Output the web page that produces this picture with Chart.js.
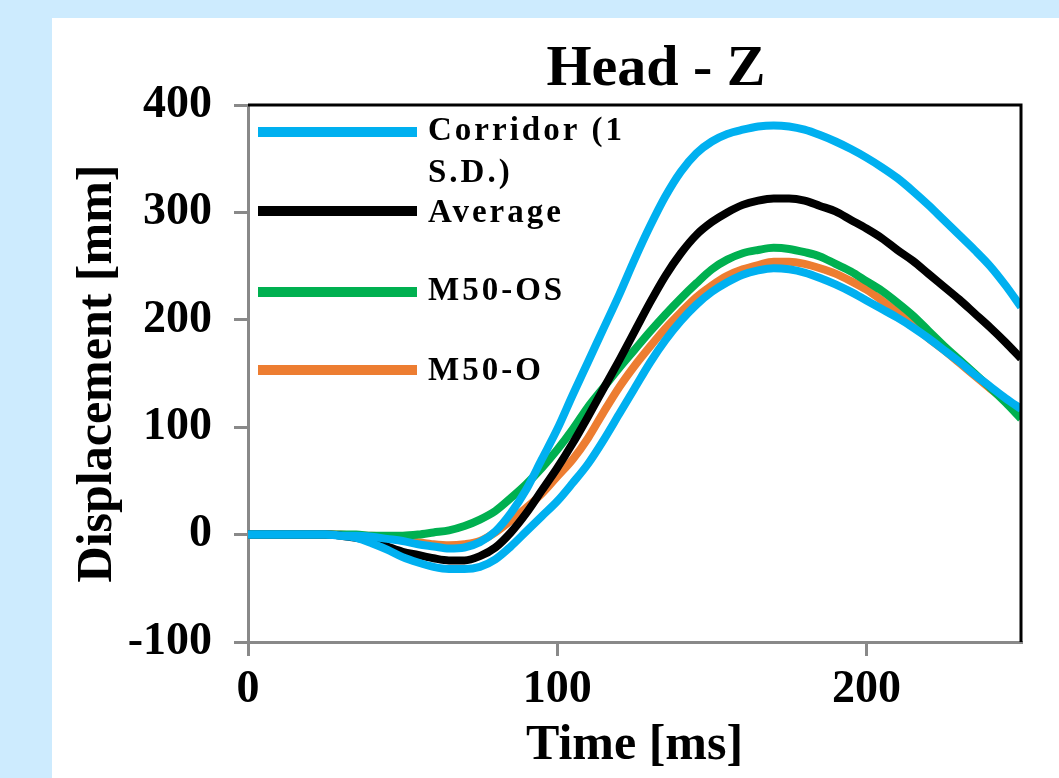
<!DOCTYPE html>
<html>
<head>
<meta charset="utf-8">
<title>Head - Z</title>
<script src="https://cdn.jsdelivr.net/npm/chart.js@4.4.0/dist/chart.umd.min.js"></script>
<style>
    html, body { margin: 0; padding: 0; background: #cdebfe; }
    #wrap { position: absolute; left: 0; top: 0; width: 1059px; height: 778px; }
</style>
</head>
<body>
<div id="wrap"><canvas id="headZ" width="1059" height="778"></canvas></div>
<script>
/* ---------- data ---------- */
const timeMs = [0, 5, 10, 15, 20, 25, 30, 35, 40, 45, 50, 55, 60, 65, 70, 75, 80, 85, 90, 95,
    100, 105, 110, 115, 120, 125, 130, 135, 140, 145, 150, 155, 160, 165, 170, 175, 180, 185, 190, 195,
    200, 205, 210, 215, 220, 225, 230, 235, 240, 245, 250];

const corridorHi = [0, 0, 0, 0, 0, 0, -1, -1, -2, -4, -6, -9, -11, -13, -12, -7, 3, 20, 42, 70,
    98, 130, 161, 192, 223, 256, 287, 315, 338, 355, 366, 373, 377, 380, 381, 380, 377, 372, 366, 359,
    351, 342, 332, 320, 307, 293, 279, 265, 250, 232, 212];

const average = [0, 0, 0, 0, 0, 0, -1, -3, -6, -11, -16, -19, -22, -24, -24, -20, -12, 2, 20, 41,
    62, 85, 110, 136, 162, 189, 216, 241, 262, 279, 291, 300, 307, 311, 313, 313, 311, 306, 301, 293,
    285, 276, 265, 255, 243, 231, 219, 206, 193, 179, 164];

const m50os = [0, 0, 0, 0, 0, 0, 0, 0, -1, -1, -1, 0, 2, 4, 8, 14, 22, 34, 47, 62,
    79, 98, 119, 137, 155, 172, 189, 205, 220, 234, 247, 256, 262, 265, 267, 266, 263, 259, 252, 245,
    236, 227, 216, 204, 190, 176, 163, 150, 137, 123, 108];

const m50o = [0, 0, 0, 0, 0, 0, 0, -1, -1, -3, -5, -7, -9, -10, -9, -6, 2, 13, 25, 38,
    54, 70, 90, 114, 137, 157, 175, 192, 207, 221, 232, 241, 247, 251, 254, 254, 252, 248, 243, 236,
    228, 218, 207, 195, 183, 172, 160, 148, 136, 125, 113];

const corridorLo = [0, 0, 0, 0, 0, 0, -1, -3, -8, -14, -21, -26, -30, -32, -32, -30, -23, -11, 3, 17,
    31, 48, 66, 88, 112, 136, 160, 181, 199, 214, 226, 235, 242, 246, 248, 247, 244, 239, 233, 226,
    218, 210, 202, 193, 183, 172, 161, 149, 138, 127, 117];

const xTicks = [0, 100, 200];
const legendLabels = [['Corridor (1', 'S.D.)'], ['Average'], ['M50-OS'], ['M50-O']];

const BLUE = '#00b0f0';
const BLACK = '#000000';
const GREEN = '#00b050';
const ORANGE = '#ed7d31';
const AXIS_GREY = '#898989';
const SERIF = "'Liberation Serif', 'Times New Roman', serif";

function pts(values) {
    return timeMs.map(function(t, i) { return { x: t, y: values[i] }; });
}

function line(label, values, color) {
    return {
        label: label,
        data: pts(values),
        borderColor: color,
        backgroundColor: color,
        borderWidth: 8,
        pointRadius: 0,
        fill: false,
        cubicInterpolationMode: 'monotone'
    };
}

/* ---------- background, frame, title, legend ---------- */
const decor = {
    id: 'decor',
    beforeDraw(chart) {
        const ctx = chart.ctx;
        ctx.save();
        ctx.fillStyle = '#cdebfe';
        ctx.fillRect(0, 0, chart.width, chart.height);
        ctx.fillStyle = '#ffffff';
        ctx.fillRect(52, 18, chart.width - 52, chart.height - 18);
        ctx.restore();
    },
    afterDraw(chart) {
        const ctx = chart.ctx;
        const a = chart.chartArea;
        ctx.save();
        // black top / right edges of the plot box
        ctx.strokeStyle = BLACK;
        ctx.lineWidth = 3;
        ctx.beginPath();
        ctx.moveTo(a.left, a.top);
        ctx.lineTo(a.right, a.top);
        ctx.lineTo(a.right, a.bottom);
        ctx.stroke();

        // title
        ctx.fillStyle = BLACK;
        ctx.font = 'bold 58px ' + SERIF;
        ctx.textAlign = 'center';
        ctx.textBaseline = 'alphabetic';
        ctx.fillText('Head - Z', 656, 85);

        // legend inside the plot, top-left
        const colors = [BLUE, BLACK, GREEN, ORANGE];
        const lineY = [132, 211, 292, 370];
        const textY = [[140, 182], [222], [300], [380]];
        ctx.font = 'bold 33px ' + SERIF;
        ctx.textAlign = 'left';
        ctx.letterSpacing = '3px';
        ctx.lineCap = 'butt';
        for (let i = 0; i < colors.length; i++) {
            ctx.strokeStyle = colors[i];
            ctx.lineWidth = 10;
            ctx.beginPath();
            ctx.moveTo(258, lineY[i]);
            ctx.lineTo(417, lineY[i]);
            ctx.stroke();
            legendLabels[i].forEach(function(txt, k) {
                ctx.fillText(txt, 428, textY[i][k]);
            });
        }
        ctx.restore();
    }
};

const ctx = document.getElementById('headZ').getContext('2d');
const chart = new Chart(ctx, {
    type: 'line',
    data: {
        datasets: [
            line('Corridor (1 S.D.)', corridorHi, BLUE),
            line('Corridor (1 S.D.)', corridorLo, BLUE),
            line('Average', average, BLACK),
            line('M50-OS', m50os, GREEN),
            line('M50-O', m50o, ORANGE)
        ]
    },
    options: {
        responsive: false,
        animation: false,
        devicePixelRatio: 1,
        layout: { padding: { left: 52, top: 105, right: 38, bottom: 0 } },
        plugins: {
            legend: { display: false },
            title: { display: false },
            tooltip: { enabled: false }
        },
        scales: {
            x: {
                type: 'linear',
                min: 0,
                max: 250,
                afterBuildTicks: function(scale) {
                    scale.ticks = xTicks.map(function(v) { return { value: v }; });
                },
                afterFit: function(scale) { scale.height = 136; },
                border: { display: true, color: AXIS_GREY, width: 3 },
                grid: { display: true, drawOnChartArea: false, drawTicks: true, tickLength: 14, color: AXIS_GREY, lineWidth: 3 },
                ticks: { color: BLACK, padding: 7, maxRotation: 0, font: { family: SERIF, size: 46, weight: 'bold', lineHeight: 1.2 } },
                title: { display: true, text: 'Time [ms]', color: BLACK, padding: { top: 0, bottom: 2 }, font: { family: SERIF, size: 50, weight: 'bold', lineHeight: 1.2 } }
            },
            y: {
                min: -100,
                max: 400,
                afterFit: function(scale) { scale.width = 196; },
                border: { display: true, color: AXIS_GREY, width: 3 },
                grid: { display: true, drawOnChartArea: false, drawTicks: true, tickLength: 14, color: AXIS_GREY, lineWidth: 3 },
                ticks: { stepSize: 100, color: BLACK, padding: 22, font: { family: SERIF, size: 46, weight: 'bold', lineHeight: 1.2 } },
                title: { display: true, text: 'Displacement [mm]', color: BLACK, padding: { top: 16, bottom: 0 }, font: { family: SERIF, size: 50, weight: 'bold', lineHeight: 1.2 } }
            }
        }
    },
    plugins: [decor]
});
</script>
</body>
</html>
